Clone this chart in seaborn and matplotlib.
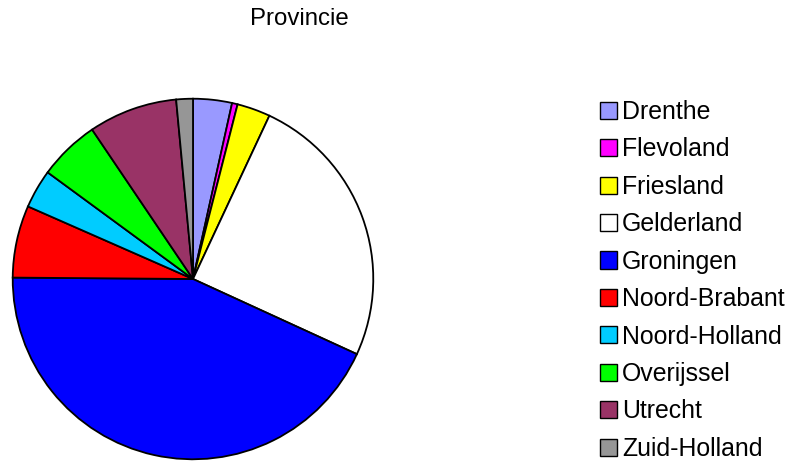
import matplotlib
matplotlib.use("Agg")
import matplotlib.pyplot as plt
import seaborn as sns

provinces = ["Drenthe", "Flevoland", "Friesland", "Gelderland", "Groningen",
             "Noord-Brabant", "Noord-Holland", "Overijssel", "Utrecht", "Zuid-Holland"]
counts = [7, 1, 6, 50, 87, 13, 7, 11, 16, 3]
colors = ["#9999FF", "#FF00FF", "#FFFF00", "#FFFFFF", "#0000FF",
          "#FF0000", "#00CCFF", "#00FF00", "#993366", "#969696"]

sns.set_style("white")
plt.rcParams["font.family"] = ["Liberation Sans", "DejaVu Sans"]
plt.rcParams["text.color"] = "black"

W, H = 789, 461
fig = plt.figure(figsize=(W / 100, H / 100), dpi=100)

cx, cy, r = 193, 279, 181
ax = fig.add_axes([(cx - r) / W, (H - cy - r) / H, 2 * r / W, 2 * r / H])
wedges, _ = ax.pie(counts, colors=colors, startangle=90, counterclock=False,
                   radius=1, wedgeprops=dict(edgecolor="black", linewidth=1.3))
ax.set_xlim(-1.004, 1.004)
ax.set_ylim(-1.004, 1.004)
ax.set_aspect("equal")
ax.axis("off")

fig.text(299 / W, 1 - 19 / H, "Provincie", ha="center", va="center",
         fontsize=17.3, color="black")

leg = fig.legend(wedges, provinces, loc="upper left",
                 bbox_to_anchor=(600 / W, 1 - 100 / H), frameon=False,
                 fontsize=17.9, handlelength=0.68, handleheight=0.68,
                 handletextpad=0.2, labelspacing=0.54, borderpad=0,
                 borderaxespad=0)
for h in leg.legend_handles:
    h.set_linewidth(1.0)
for t in leg.get_texts():
    t.set_color("black")

fig.savefig("out.png", dpi=100)
